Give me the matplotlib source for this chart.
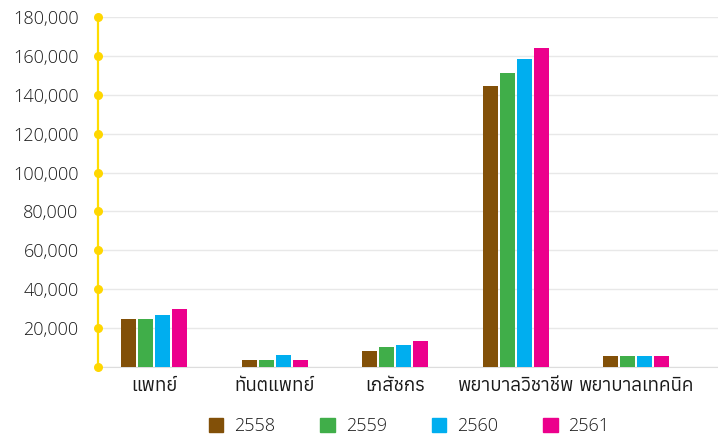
import matplotlib
matplotlib.use("Agg")
import matplotlib.pyplot as plt
from matplotlib.transforms import blended_transform_factory
from matplotlib.patches import Patch
import numpy as np

categories = ["แพทย์", "ทันตแพทย์", "เภสัชกร", "พยาบาลวิชาชีพ", "พยาบาลเทคนิค"]
years = ["2558", "2559", "2560", "2561"]
v2558 = [24750, 3400, 8050, 144700, 5450]
v2559 = [24750, 3400, 10150, 150950, 5450]
v2560 = [26850, 6000, 11200, 158250, 5450]
v2561 = [29950, 3400, 13300, 164000, 5450]
series = [v2558, v2559, v2560, v2561]
colors = ["#825008", "#40AE49", "#00AEEF", "#EC008C"]
yticks = [0, 20000, 40000, 60000, 80000, 100000, 120000, 140000, 160000, 180000]

plt.rcParams["font.family"] = ["Open Sans", "Anuphan", "DejaVu Sans"]
thai = ["Anuphan", "Open Sans", "DejaVu Sans"]

fig = plt.figure(figsize=(7.18, 4.47), dpi=100)
ax = fig.add_axes([98/718, 80/447, 620/718, 350/447])

x = np.arange(len(categories))
pitch = 0.141
width = 0.127
for i, (vals, c) in enumerate(zip(series, colors)):
    ax.bar(x + (i - 1.5) * pitch, vals, width=width, color=c, label=years[i], zorder=3)

ax.set_xlim(-0.467, 4.678)
ax.set_ylim(0, 180000)
ax.set_yticks(yticks)
ax.set_yticklabels(["" if t == 0 else f"{t:,}" for t in yticks], fontsize=13, color="#1a1a1a",
                   fontweight=300)
ax.set_xticks(x)
ax.set_xticklabels(categories, fontsize=13.5, color="#1a1a1a", family=thai)
ax.tick_params(axis="y", length=0, pad=14)
ax.tick_params(axis="x", length=0, pad=7)
ax.grid(axis="y", color="#e8e8e8", lw=1, zorder=0)
for s in ["top", "right"]:
    ax.spines[s].set_visible(False)
ax.spines["bottom"].set_color("#dddddd")
ax.spines["left"].set_color("#FFDD00")
ax.spines["left"].set_linewidth(1.6)
tr = blended_transform_factory(ax.transAxes, ax.transData)
ax.scatter([0] * len(yticks), yticks, s=30, color="#FFD700", transform=tr, clip_on=False, zorder=5)

handles = [Patch(color=c) for c in colors]
leg = fig.legend(handles, years, loc="lower center", bbox_to_anchor=(0.57, -0.01), ncol=4,
                 frameon=False, handlelength=0.8, handleheight=0.8,
                 columnspacing=2.5, handletextpad=0.6, prop={"size": 13, "weight": 300})
for t in leg.get_texts():
    t.set_color("#1a1a1a")

fig.savefig("out.png", dpi=100)
